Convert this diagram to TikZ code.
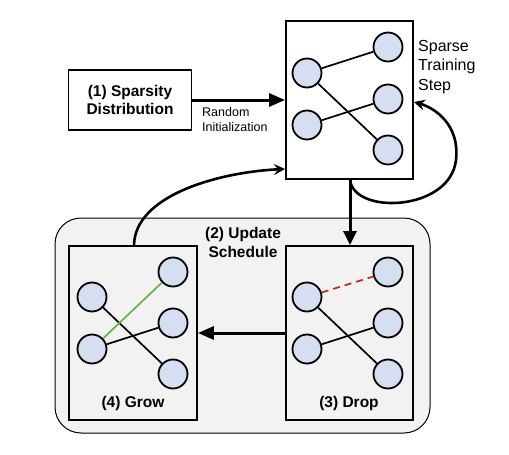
\documentclass[tikz,border=0pt]{standalone}
\usepackage{fontspec}
\setmainfont{Liberation Sans}
\usetikzlibrary{arrows.meta}
\definecolor{unitfill}{HTML}{D6DEF2}
\definecolor{panelgray}{HTML}{F2F2F2}
\definecolor{growgreen}{HTML}{6AB04C}
\definecolor{dropred}{HTML}{CC2222}
\begin{document}
\begin{tikzpicture}[x=1pt,y=-1pt,
  unit/.style={circle,draw,line width=1.8pt,fill=unitfill,minimum size=29pt,inner sep=0pt},
  framebox/.style={draw,line width=1.8pt,fill=white,inner sep=0pt},
  wire/.style={line width=1.7pt},
  bigarrow/.style={line width=3pt,-{Triangle[length=16pt,width=13pt]}},
  looparrow/.style={line width=2.6pt,-{Stealth[length=11pt,width=11pt,inset=4pt]}},
  lbl/.style={font=\fontsize{15.5}{19}\selectfont\bfseries,align=center},
  note/.style={font=\fontsize{16}{19.5}\selectfont,align=left}]
\useasboundingbox (0,0) rectangle (509,455);

% update schedule panel
\node[draw,line width=1pt,rounded corners=26pt,fill=panelgray,minimum width=375pt,minimum height=215pt] (panel) at (242.5,325.5) {};
\node[lbl] (sched) at (243,242) {(2) Update\\Schedule};

% sparse network box
\node[framebox,fill=white,minimum width=127pt,minimum height=158pt] (net) at (349.5,100) {};
\node[unit] (a1) at (307,73) {};
\node[unit] (a2) at (307,125) {};
\node[unit] (b1) at (388,47) {};
\node[unit] (b2) at (388,99) {};
\node[unit] (b3) at (388,150) {};
\draw[wire] (a1) -- (b1);
\draw[wire] (a1) -- (b3);
\draw[wire] (a2) -- (b2);
\node[note,anchor=north west,inner sep=0pt] (step) at (418,40) {Sparse\\Training\\Step};

% sparsity distribution
\node[framebox,minimum width=123pt,minimum height=60pt] (dist) at (130,100) {};
\node[lbl,font=\fontsize{15.5}{18.5}\selectfont\bfseries] at (dist.center) {(1) Sparsity\\Distribution};
\draw[bigarrow] (dist.east) -- (net.west);
\node[font=\fontsize{12.5}{15}\selectfont,align=left,anchor=north west,inner sep=0pt] (init) at (202,107) {Random\\Initialization};

% drop box
\node[framebox,fill=panelgray,minimum width=127pt,minimum height=174pt] (drop) at (349.5,333) {};
\node[unit] (d1) at (307,297) {};
\node[unit] (d2) at (307,349) {};
\node[unit] (e1) at (388,272) {};
\node[unit] (e2) at (388,323) {};
\node[unit] (e3) at (388,374) {};
\draw[wire,dropred,dashed,dash pattern=on 7pt off 5pt] (d1) -- (e1);
\draw[wire] (d1) -- (e3);
\draw[wire] (d2) -- (e2);
\node[lbl] (droplbl) at (349,403) {(3) Drop};

% grow box
\node[framebox,fill=panelgray,minimum width=128pt,minimum height=174pt] (grow) at (133,333) {};
\node[unit] (g1) at (92,297) {};
\node[unit] (g2) at (92,349) {};
\node[unit] (h1) at (173,272) {};
\node[unit] (h2) at (173,323) {};
\node[unit] (h3) at (173,374) {};
\draw[wire] (g1) -- (h3);
\draw[wire] (g2) -- (h2);
\draw[wire,growgreen] (g2) -- (h1);
\node[lbl] (growlbl) at (133,403) {(4) Grow};

% flow arrows
\coordinate (netbot) at (350,179);
\coordinate (netright) at (414,102);
\draw[bigarrow,-{Triangle[length=14pt,width=13pt]}] (netbot) -- (drop.north -| netbot);
\draw[bigarrow,-{Triangle[length=16pt,width=13pt]}] (drop.west) -- (grow.east);
\draw[looparrow] (netbot) .. controls (352,215) and (450,212) .. (456,160)
  .. controls (460,125) and (435,108) .. (netright);
\coordinate (growtop) at (134,246);
\coordinate (netleft) at (285,169);
\draw[looparrow] (growtop) .. controls (134,195) and (220,172) .. (netleft);
\end{tikzpicture}
\end{document}
